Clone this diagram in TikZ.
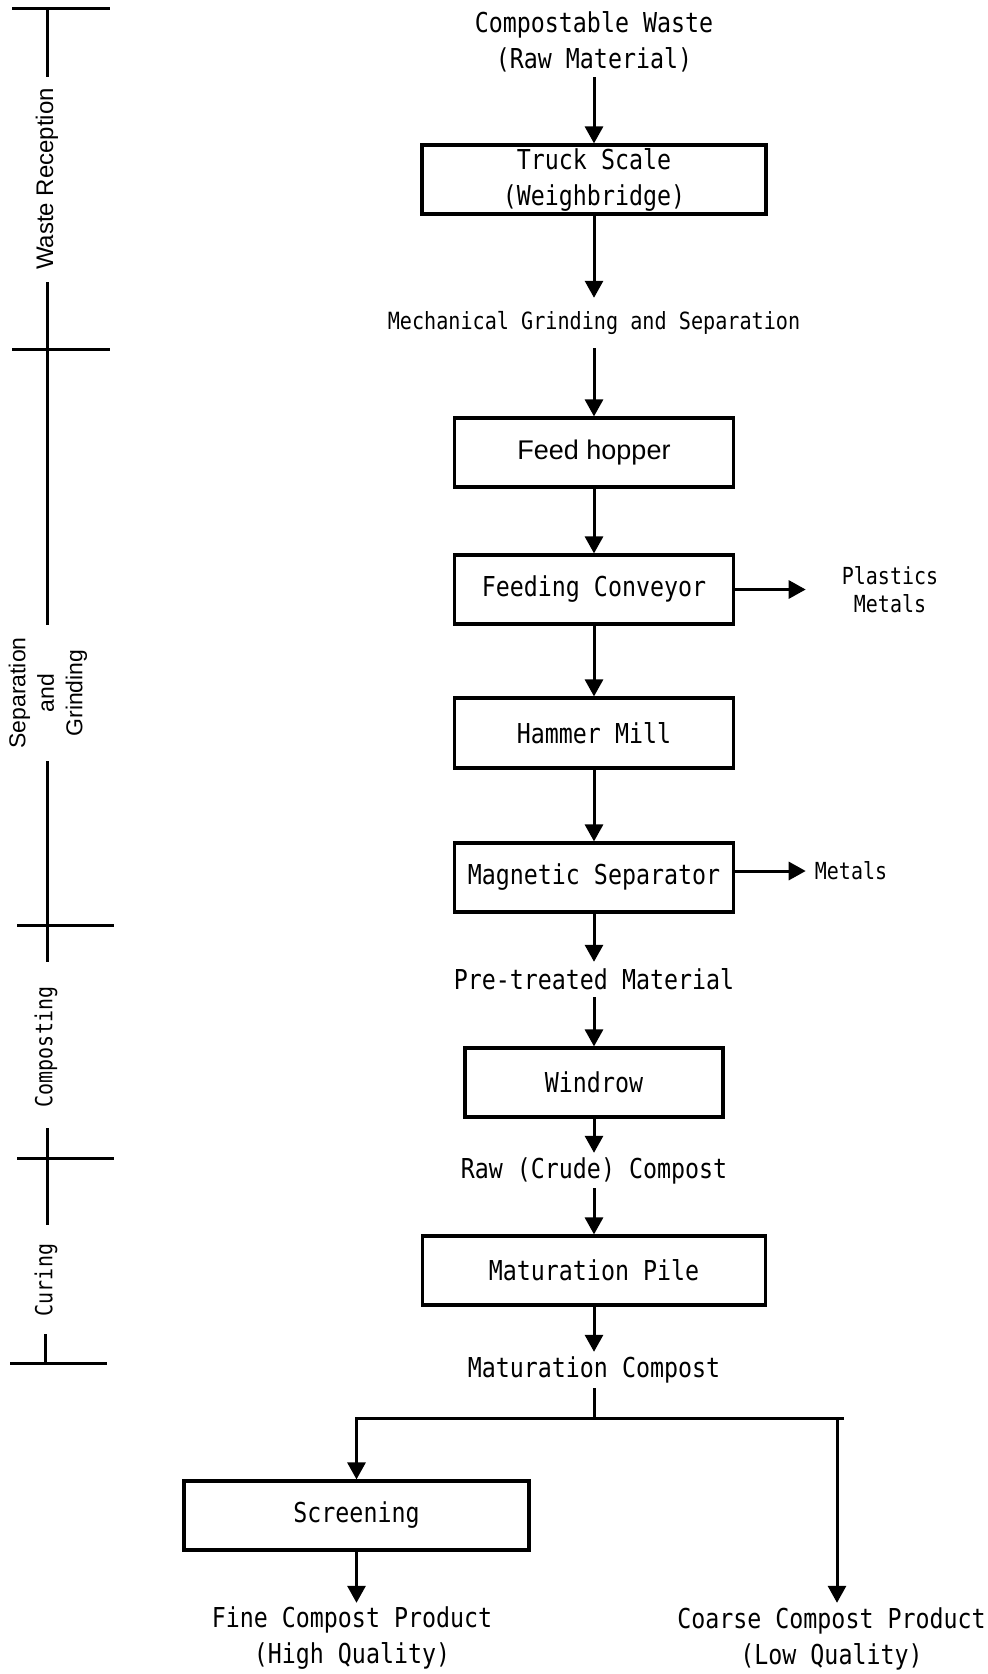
\documentclass[tikz,border=0pt]{standalone}
\usepackage{fontspec}
\usetikzlibrary{arrows.meta}
\newfontfamily\monof{DejaVu Sans Mono}[FakeStretch=0.85]
\newfontfamily\arialf{Liberation Sans}
\tikzset{
  box/.style={draw, line width=3.2pt, inner sep=0pt, align=center,
    font=\monof\fontsize{27.4}{36}\selectfont},
  lbl/.style={inner sep=0pt, align=center,
    font=\monof\fontsize{27.4}{36}\selectfont},
  small/.style={inner sep=0pt, align=center,
    font=\monof\fontsize{23.5}{28}\selectfont},
  arr/.style={line width=3pt, -{Triangle[length=17pt,width=18pt]}},
  ln/.style={line width=3pt},
}
\begin{document}
\begin{tikzpicture}[x=1pt,y=-1pt]
\fill[white] (0,0) rectangle (988,1674);
\useasboundingbox (0,0) rectangle (988,1674);

% ---- left phase scale ----
\draw[ln] (12,8) -- (110,8);
\draw[ln] (12,349) -- (110,349);
\draw[ln] (17,925) -- (114,925);
\draw[ln] (17,1158) -- (114,1158);
\draw[ln] (10,1363) -- (107,1363);
\draw[ln] (47,8) -- (47,77);
\draw[ln] (47,282) -- (47,625);
\draw[ln] (47,761) -- (47,962);
\draw[ln] (47,1128) -- (47,1225);
\draw[ln] (45,1334) -- (45,1363);
\node[rotate=90, inner sep=0pt, font=\arialf\fontsize{24}{28}\selectfont] (wrl) at (47,179) {Waste Reception};
\node[rotate=90, inner sep=0pt, align=center, font=\arialf\fontsize{23}{28.5}\selectfont] (sgl) at (48,693) {Separation\\and\\Grinding};
\node[rotate=90, small] (cpl) at (46,1047) {Composting};
\node[rotate=90, small] (cul) at (46,1280) {Curing};

% ---- main flow ----
\node[lbl, minimum height=70pt] (cw) at (594,42) {Compostable Waste\\(Raw Material)};
\node[box, minimum width=344pt, minimum height=69pt] (ts) at (594,179.5) {Truck Scale\\(Weighbridge)};
\node[lbl, font=\monof\fontsize{23.7}{30}\selectfont, minimum height=50pt] (mech) at (594,323) {Mechanical Grinding and Separation};
\node[box, font=\arialf\fontsize{27}{36}\selectfont, minimum width=279pt, minimum height=69pt] (fh) at (594,452.5) {Feed hopper};
\node[box, minimum width=279pt, minimum height=69pt] (fc) at (594,589.5) {Feeding Conveyor};
\node[box, minimum width=279pt, minimum height=70pt] (hm) at (594,733) {Hammer Mill};
\node[box, minimum width=279pt, minimum height=69pt] (ms) at (594,877.5) {Magnetic Separator};
\node[lbl, minimum height=35pt] (pt) at (594,979.5) {Pre-treated Material};
\node[box, minimum width=258pt, minimum height=69pt] (wr) at (594,1082.5) {Windrow};
\node[lbl, minimum height=35pt] (rc) at (594,1170.5) {Raw (Crude) Compost};
\node[box, minimum width=343pt, minimum height=69pt] (mp) at (594,1270.5) {Maturation Pile};
\node[lbl, minimum height=36pt] (mc) at (594,1370) {Maturation Compost};
\node[box, minimum width=345pt, minimum height=69pt] (sc) at (356.5,1515.5) {Screening};
\node[lbl, minimum height=71pt] (fine) at (352,1638.5) {Fine Compost Product\\(High Quality)};
\node[lbl, minimum height=71pt] (coarse) at (831.5,1638.5) {Coarse Compost Product\\(Low Quality)};
\node[small] (pm) at (890,589.5) {Plastics\\Metals};
\node[small] (m2) at (851,871) {Metals};

\draw[arr] (cw.south) -- (ts.north);
\draw[arr] (ts.south) -- (mech.north);
\draw[arr] (mech.south) -- (fh.north);
\draw[arr] (fh.south) -- (fc.north);
\draw[arr] (fc.south) -- (hm.north);
\draw[arr] (hm.south) -- (ms.north);
\draw[arr] (ms.south) -- (pt.north);
\draw[arr] (pt.south) -- (wr.north);
\draw[arr] (wr.south) -- (rc.north);
\draw[arr] (rc.south) -- (mp.north);
\draw[arr] (mp.south) -- (mc.north);
\draw[arr, shorten >=36pt] (fc.east) -- (pm.west);
\draw[arr, shorten >=9pt] (ms.east |- m2.west) -- (m2.west);

\coordinate (bm) at (594,1418);
\coordinate (br) at (844,1418);
\coordinate (bc) at (837,1418);
\draw[ln] (mc.south) -- (bm);
\draw[arr] (br) -- (sc.north |- bm) -- (sc.north);
\draw[arr] (sc.south) -- (sc.south |- fine.north);
\draw[arr] (bc) -- (bc |- coarse.north);
\end{tikzpicture}
\end{document}
